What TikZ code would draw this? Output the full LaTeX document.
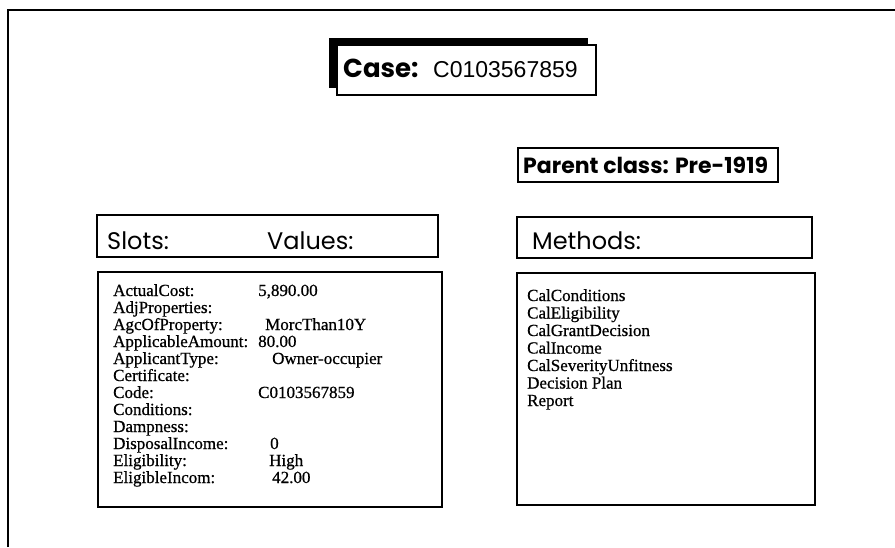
\documentclass[tikz,border=0pt]{standalone}
\usepackage{fontspec}
\setmainfont{Liberation Serif}
\newfontfamily\gothic{Poppins}
\newfontfamily\arialfont{Liberation Sans}
\newfontfamily\slotfont[FakeBold=0.7]{Liberation Serif}
\tikzset{
  framebox/.style={line width=1.2pt},
  heading/.style={anchor=base west,inner sep=0pt,font=\gothic\fontsize{24}{24}\selectfont},
  entry/.style={anchor=base west,inner sep=0pt,font=\slotfont\fontsize{17}{17}\selectfont},
}
\begin{document}
\begin{tikzpicture}[x=1pt,y=-1pt]
\useasboundingbox (0,0) rectangle (895,547);
% outer frame, open at the right and at the bottom
\draw[framebox] (8,547) -- (8,10) -- (895,10);
% case title with its shadow
\fill[black] (329,38) rectangle (588,88);
\filldraw[framebox,fill=white] (337,45) rectangle (596,95);
\node[anchor=base west,inner sep=0pt] (case) at (343,77) {\gothic\bfseries\fontsize{26}{26}\selectfont Case:};
\node[anchor=base west,inner sep=0pt] (casecode) at (433,77) {\arialfont\fontsize{23}{23}\selectfont C0103567859};
% parent class
\draw[framebox] (518,148) rectangle (778,182);
\node[anchor=base west,inner sep=0pt] (parent) at (523,173) {\gothic\bfseries\fontsize{22}{22}\selectfont Parent class: Pre-1919};
% slots and values
\draw[framebox] (97,215) rectangle (438,257);
\node[heading] (slots) at (107,249) {Slots:};
\node[heading] (values) at (267,249) {Values:};
\draw[framebox] (98,272) rectangle (442,507);
\foreach\s/\v/\x [count=\i] in {ActualCost:/{5,890.00}/258,AdjProperties://258,AgcOfProperty:/MorcThan10Y/265,
  ApplicableAmount:/80.00/258,ApplicantType:/Owner-occupier/272,Certificate://258,Code:/C0103567859/258,
  Conditions://258,Dampness://258,DisposalIncome:/0/270,Eligibility:/High/269,EligibleIncom:/42.00/272} {
  \node[entry] (slot\i) at (113,296+17*\i-17) {\s};
  \node[entry] (value\i) at (\x,296+17*\i-17) {\v};
}
% methods
\draw[framebox] (517,217) rectangle (812,258);
\node[heading] (methods) at (532,249) {Methods:};
\draw[framebox] (517,273) rectangle (815,505);
\foreach\m [count=\i] in {CalConditions,CalEligibility,CalGrantDecision,CalIncome,
  CalSeverityUnfitness,Decision Plan,Report} {
  \node[entry] (method\i) at (527,301+17.5*\i-17.5) {\m};
}
\end{tikzpicture}
\end{document}
